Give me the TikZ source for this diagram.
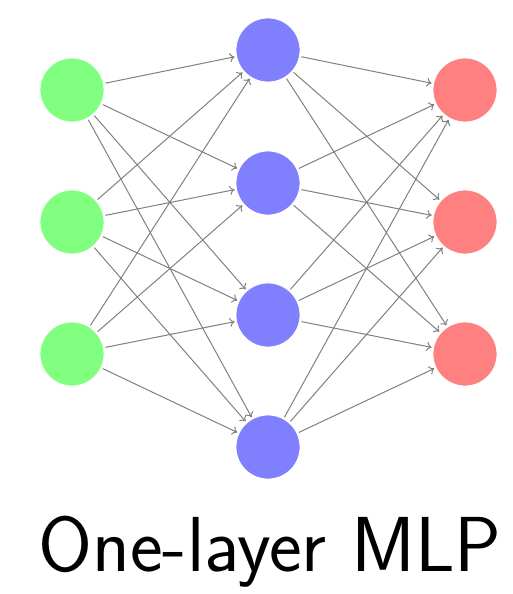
\documentclass[tikz,border=0pt]{standalone}
\usetikzlibrary{arrows.meta}
\begin{document}
\begin{tikzpicture}[x=1pt,y=-1pt,
  neuron/.style={circle,minimum size=64pt,inner sep=0pt,draw=white,line width=0.8pt,outer sep=2pt},
  inp/.style={neuron,fill=green!50},
  hid/.style={neuron,fill=blue!50},
  outp/.style={neuron,fill=red!50},
  conn/.style={draw=gray,line width=1pt,-{To[length=5pt,width=9pt]}}]
\useasboundingbox (0,0) rectangle (512,594);
\node[inp] (i1) at (72,90) {};
\node[inp] (i2) at (72,222) {};
\node[inp] (i3) at (72,354) {};
\node[hid] (h1) at (268,50) {};
\node[hid] (h2) at (268,183) {};
\node[hid] (h3) at (268,315) {};
\node[hid] (h4) at (268,447) {};
\node[outp] (o1) at (465,90) {};
\node[outp] (o2) at (465,222) {};
\node[outp] (o3) at (465,354) {};
\foreach \i in {1,2,3}{\foreach \h in {1,2,3,4}{\draw[conn] (i\i) -- (h\h);}}
\foreach \h in {1,2,3,4}{\foreach \o in {1,2,3}{\draw[conn] (h\h) -- (o\o);}}
\node[font=\sffamily\fontsize{78}{84}\selectfont,inner sep=0pt] (t) at (270,552) {One-layer MLP};
\end{tikzpicture}
\end{document}
